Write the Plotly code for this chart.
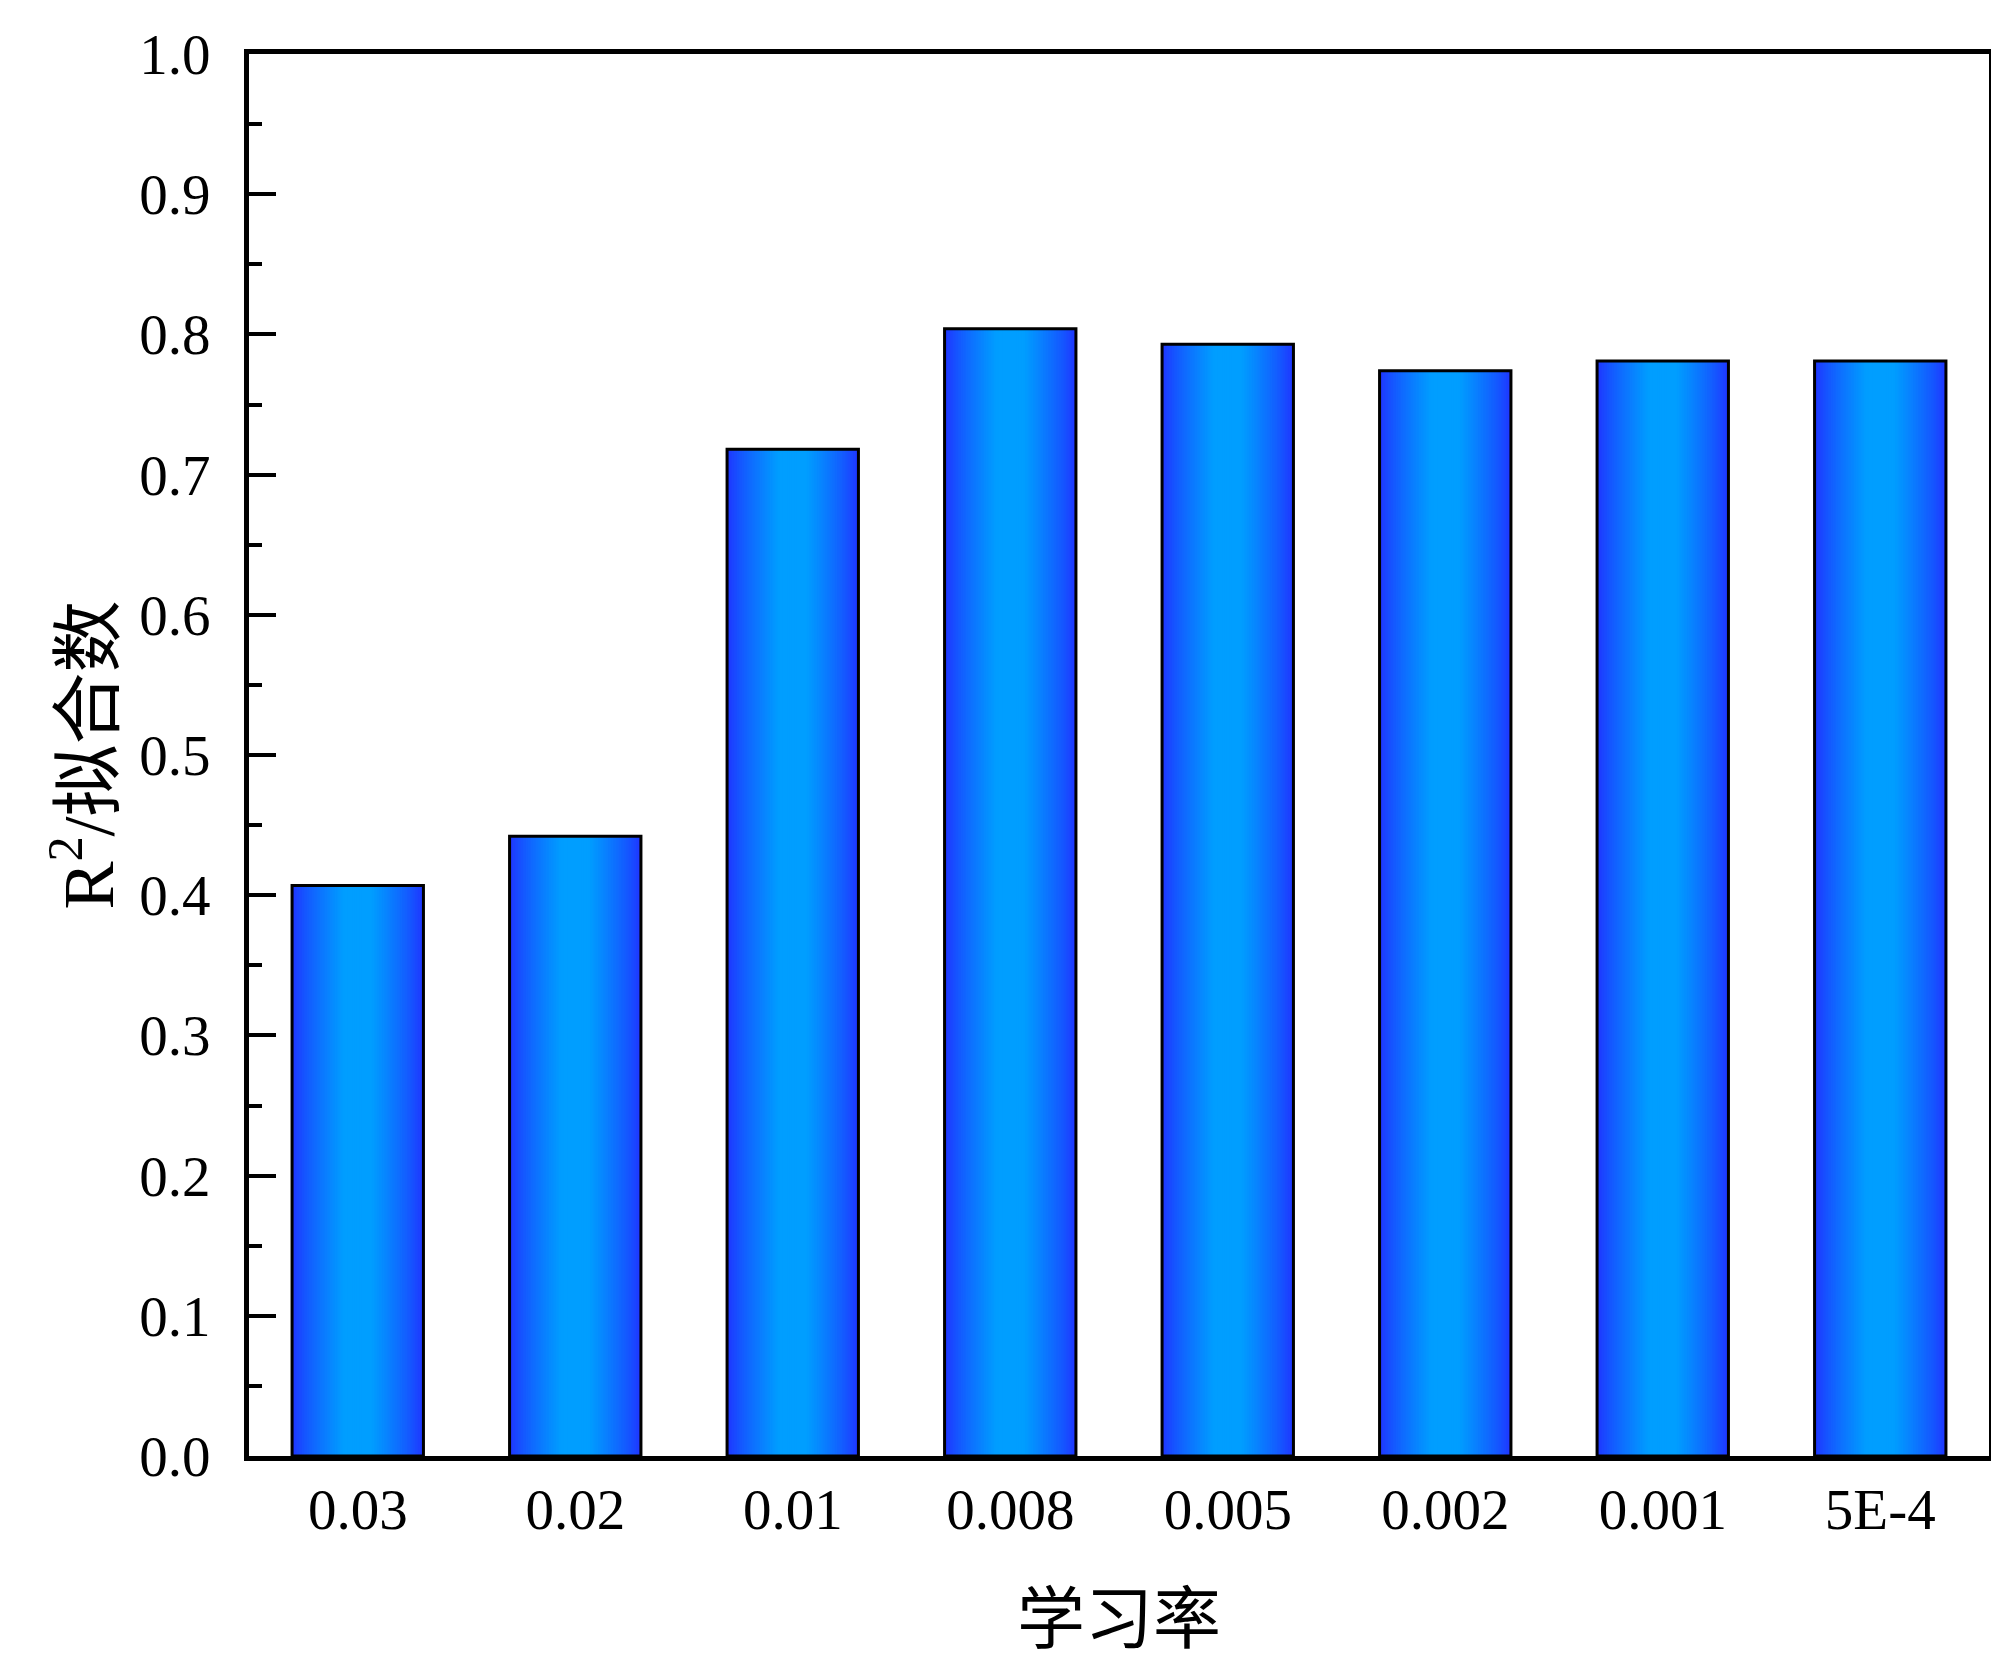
import plotly.graph_objects as go

# Data
categories = ["0.03", "0.02", "0.01", "0.008", "0.005", "0.002", "0.001", "5E-4"]
r2_values = [0.407, 0.442, 0.718, 0.804, 0.793, 0.774, 0.781, 0.781]
y_ticks = [0.0, 0.1, 0.2, 0.3, 0.4, 0.5, 0.6, 0.7, 0.8, 0.9, 1.0]

BAR_WIDTH = 0.604
EDGE = (32, 52, 255)
CENTER = (0, 158, 255)
N_STEPS = 40

fig = go.Figure()

# Simulated horizontal gradient: overlaid bars narrowing toward the center
for k in range(N_STEPS):
    frac = 1 - k / N_STEPS
    w = BAR_WIDTH * frac
    t = min(1.0, (k / N_STEPS) / 0.78)
    t = t ** 0.8
    col = tuple(int(round(EDGE[i] + (CENTER[i] - EDGE[i]) * t)) for i in range(3))
    fig.add_trace(go.Bar(
        x=categories, y=r2_values, width=w,
        marker=dict(color="rgb(%d,%d,%d)" % col, line=dict(width=0)),
        showlegend=False, hoverinfo="skip",
    ))

# Outline
fig.add_trace(go.Bar(
    x=categories, y=r2_values, width=BAR_WIDTH,
    marker=dict(color="rgba(0,0,0,0)", line=dict(color="black", width=3)),
    showlegend=False,
))

font_fam = "Liberation Serif, Times New Roman, Noto Sans CJK SC, serif"

fig.update_layout(
    width=1990, height=1663,
    barmode="overlay",
    plot_bgcolor="white", paper_bgcolor="white",
    margin=dict(l=241, r=4, t=46, b=215),
    font=dict(family=font_fam, color="black", size=57),
    xaxis=dict(
        type="category", range=[-0.5, 7.5],
        showline=True, linecolor="black", linewidth=5, mirror=True,
        ticks="", showgrid=False, zeroline=False,
        tickfont=dict(size=57, family=font_fam),
        ticklabelstandoff=0,
        title=dict(text="学习率", font=dict(size=68, family="Noto Sans CJK SC"), standoff=56),
    ),
    yaxis=dict(
        range=[0, 1.0],
        tickvals=y_ticks, ticktext=["%.1f" % v for v in y_ticks],
        showline=True, linecolor="black", linewidth=5, mirror=True,
        ticks="inside", ticklen=27, tickwidth=4, tickcolor="black",
        minor=dict(ticks="inside", ticklen=13, tickwidth=4, tickcolor="black", dtick=0.05, showgrid=False),
        showgrid=False, zeroline=False,
        tickfont=dict(size=57, family=font_fam),
        ticklabelstandoff=22,
        title=dict(text="R<sup>2</sup>/拟合数", font=dict(size=72, family=font_fam), standoff=4),
    ),
)

fig.write_html("out.html")
